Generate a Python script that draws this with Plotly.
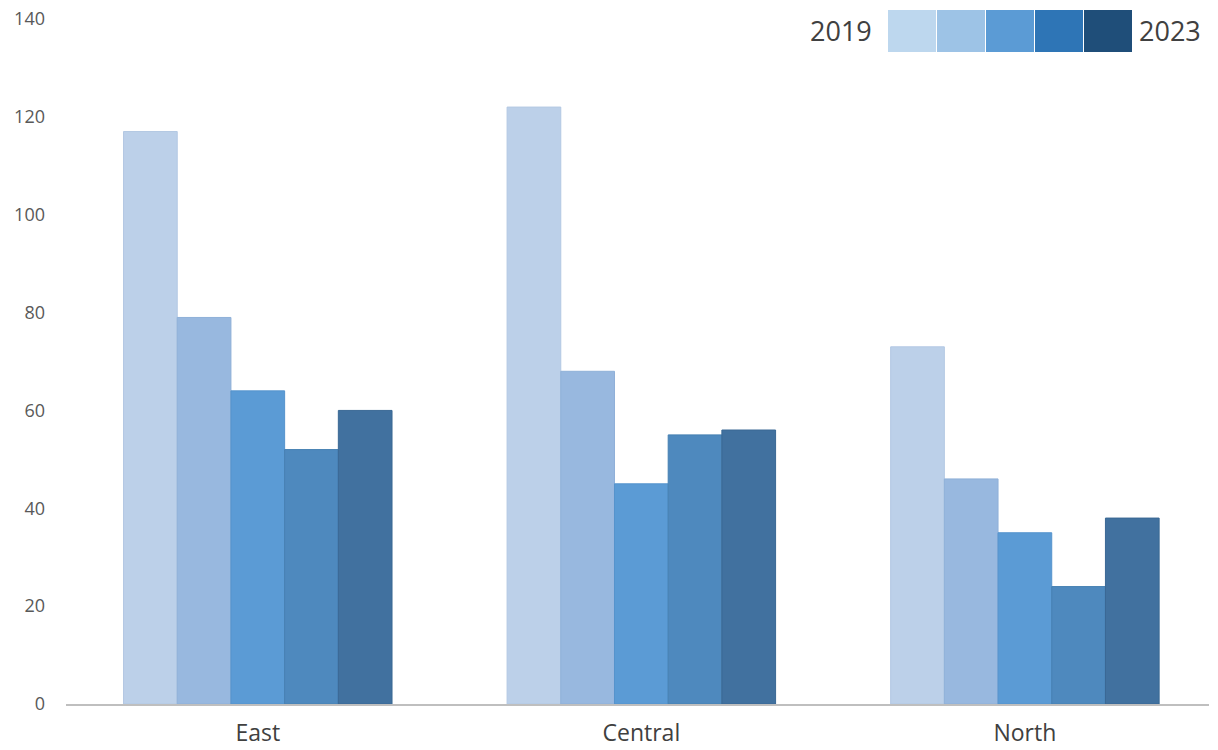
import plotly.graph_objects as go

# Regions on the category axis, years as the series
regions = ["East", "Central", "North"]
years = ["2019", "2020", "2021", "2022", "2023"]

vals_2019 = [117, 122, 73]
vals_2020 = [79, 68, 46]
vals_2021 = [64, 45, 35]
vals_2022 = [52, 55, 24]
vals_2023 = [60, 56, 38]

series = [vals_2019, vals_2020, vals_2021, vals_2022, vals_2023]

bar_colors = ["#BCD0E9", "#98B8DF", "#5B9BD5", "#4E89BE", "#41719F"]
bar_edges = ["#B3C8E3", "#8FB0D8", "#5593CC", "#4680B3", "#3A6894"]
key_colors = ["#BDD7EE", "#9DC3E6", "#5B9BD5", "#2E75B6", "#1F4E79"]

fig = go.Figure()

for yr, vals, col, edge in zip(years, series, bar_colors, bar_edges):
    fig.add_trace(go.Bar(
        x=regions, y=vals, name=yr,
        marker=dict(color=col, line=dict(color=edge, width=1)),
        showlegend=False,
    ))

# Colour key: a one-row heatmap on its own small axes
fig.add_trace(go.Heatmap(
    x=years, y=["key"], z=[[0, 1, 2, 3, 4]],
    xaxis="x2", yaxis="y2",
    colorscale=[[i / 4, c] for i, c in enumerate(key_colors)],
    zmin=0, zmax=4, showscale=False, hoverinfo="x",
    xgap=1,
))

left, right = 66, 1209
plot_w = right - left

fig.update_layout(
    width=1218, height=750,
    margin=dict(l=left, r=1218 - right, t=5, b=46),
    paper_bgcolor="white", plot_bgcolor="white",
    font=dict(family="Open Sans", color="#595959"),
    barmode="group", bargap=0.3, bargroupgap=0,
    xaxis=dict(
        range=[-0.5, 2.48],
        showgrid=False, showline=True, linecolor="#BFBFBF", linewidth=1.5,
        ticks="", tickfont=dict(size=23, color="#404040"),
        ticklabelstandoff=8, zeroline=False, automargin=False,
    ),
    yaxis=dict(
        domain=[0, 685 / 699], range=[0, 140], dtick=20,
        showgrid=False, showline=False, zeroline=False, ticks="",
        tickfont=dict(size=18, color="#595959"), ticklabelstandoff=20,
        automargin=False,
    ),
    xaxis2=dict(
        domain=[(888 - left) / plot_w, (1133 - left) / plot_w], anchor="y2",
        showticklabels=False, showgrid=False, zeroline=False, showline=False,
        fixedrange=True, automargin=False,
    ),
    yaxis2=dict(
        domain=[(704 - 52) / 699, (704 - 10) / 699], anchor="x2",
        showticklabels=False, showgrid=False, zeroline=False, showline=False,
        fixedrange=True, automargin=False,
    ),
    annotations=[
        dict(text=years[0], xref="x2 domain", yref="y2 domain", x=0, y=0.5,
             xanchor="right", yanchor="middle", xshift=-14, showarrow=False,
             font=dict(size=27, color="#404040")),
        dict(text=years[-1], xref="x2 domain", yref="y2 domain", x=1, y=0.5,
             xanchor="left", yanchor="middle", xshift=4, showarrow=False,
             font=dict(size=27, color="#404040")),
    ],
)

fig.write_html("out.html")
